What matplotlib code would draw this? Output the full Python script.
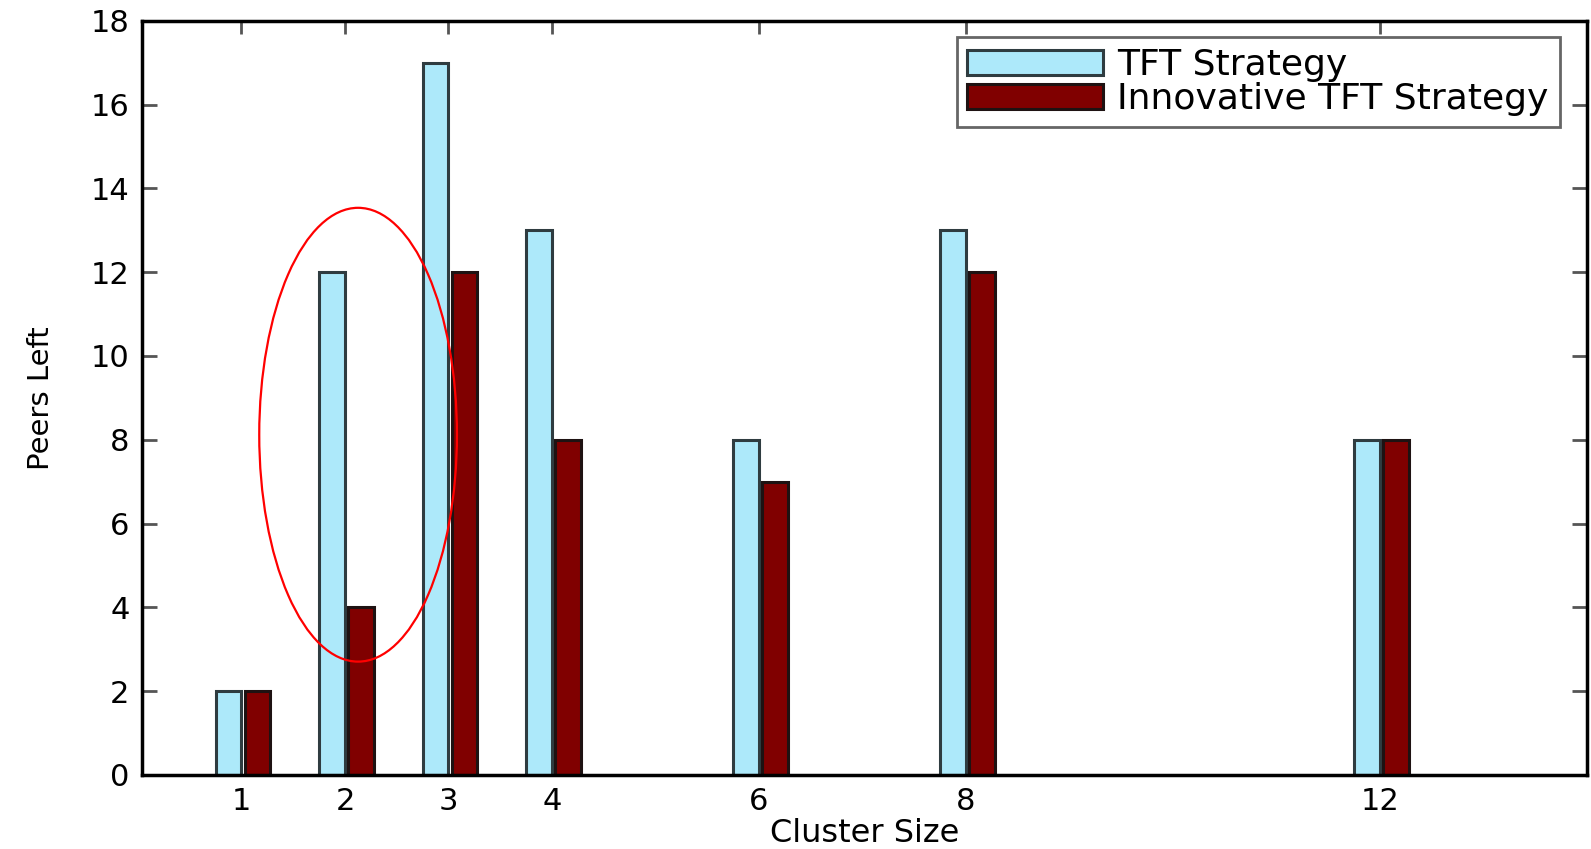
import matplotlib.pyplot as plt
from matplotlib.patches import Ellipse
import numpy as np

# Data
cluster_size = [1, 2, 3, 4, 6, 8, 12]
tft = [2, 12, 17, 13, 8, 13, 8]
innovative_tft = [2, 4, 12, 8, 7, 12, 8]
series_labels = ['TFT Strategy', 'Innovative TFT Strategy']
y_ticks = list(range(0, 19, 2))

# red highlight ellipse around cluster size 2 (center x, center y, width, height)
ring_center = (2.127, 8.12)
ring_size = (1.91, 10.83)

plt.rcParams['font.family'] = ['DejaVu Sans']

fig = plt.figure(figsize=(15.91, 8.49), dpi=100)
ax = fig.add_axes([0.0893, 0.0872, 0.9082, 0.8884])

x = np.array(cluster_size, dtype=float)
w = 0.25
ax.bar(x - w / 2, tft, width=w, color='#ade9fa', edgecolor='#2f3c40',
       linewidth=2.2, label=series_labels[0], zorder=2)
ax.bar(x + 0.03 + w / 2, innovative_tft, width=w, color='#800000',
       edgecolor='#1e1212', linewidth=2.2, label=series_labels[1], zorder=2)

ax.add_patch(Ellipse(ring_center, ring_size[0], ring_size[1], fill=False,
                     edgecolor='#ff0000', linewidth=1.6, zorder=3))

ax.set_xlim(0.04, 14)
ax.set_ylim(0, 18)
ax.set_xticks(cluster_size)
ax.set_yticks(y_ticks)
ax.tick_params(axis='both', direction='in', labelsize=22, width=2,
               color='#555555', pad=9)
ax.tick_params(axis='y', length=11, right=True)
ax.tick_params(axis='x', length=9, top=True)

for s in ax.spines.values():
    s.set_linewidth(2.5)
    s.set_color('black')

ax.set_xlabel('Cluster Size', fontsize=23, labelpad=1)
ax.set_ylabel('Peers Left', fontsize=21, labelpad=26)

leg = ax.legend(loc='upper right', bbox_to_anchor=(0.981, 0.978),
                fontsize=26, fancybox=False, framealpha=1, edgecolor='#666666',
                handlelength=3.75, handleheight=0.7, handletextpad=0.4,
                labelspacing=0.0, borderpad=0.3, borderaxespad=0)
leg.get_frame().set_linewidth(2)

fig.savefig('out.png', dpi=100)
